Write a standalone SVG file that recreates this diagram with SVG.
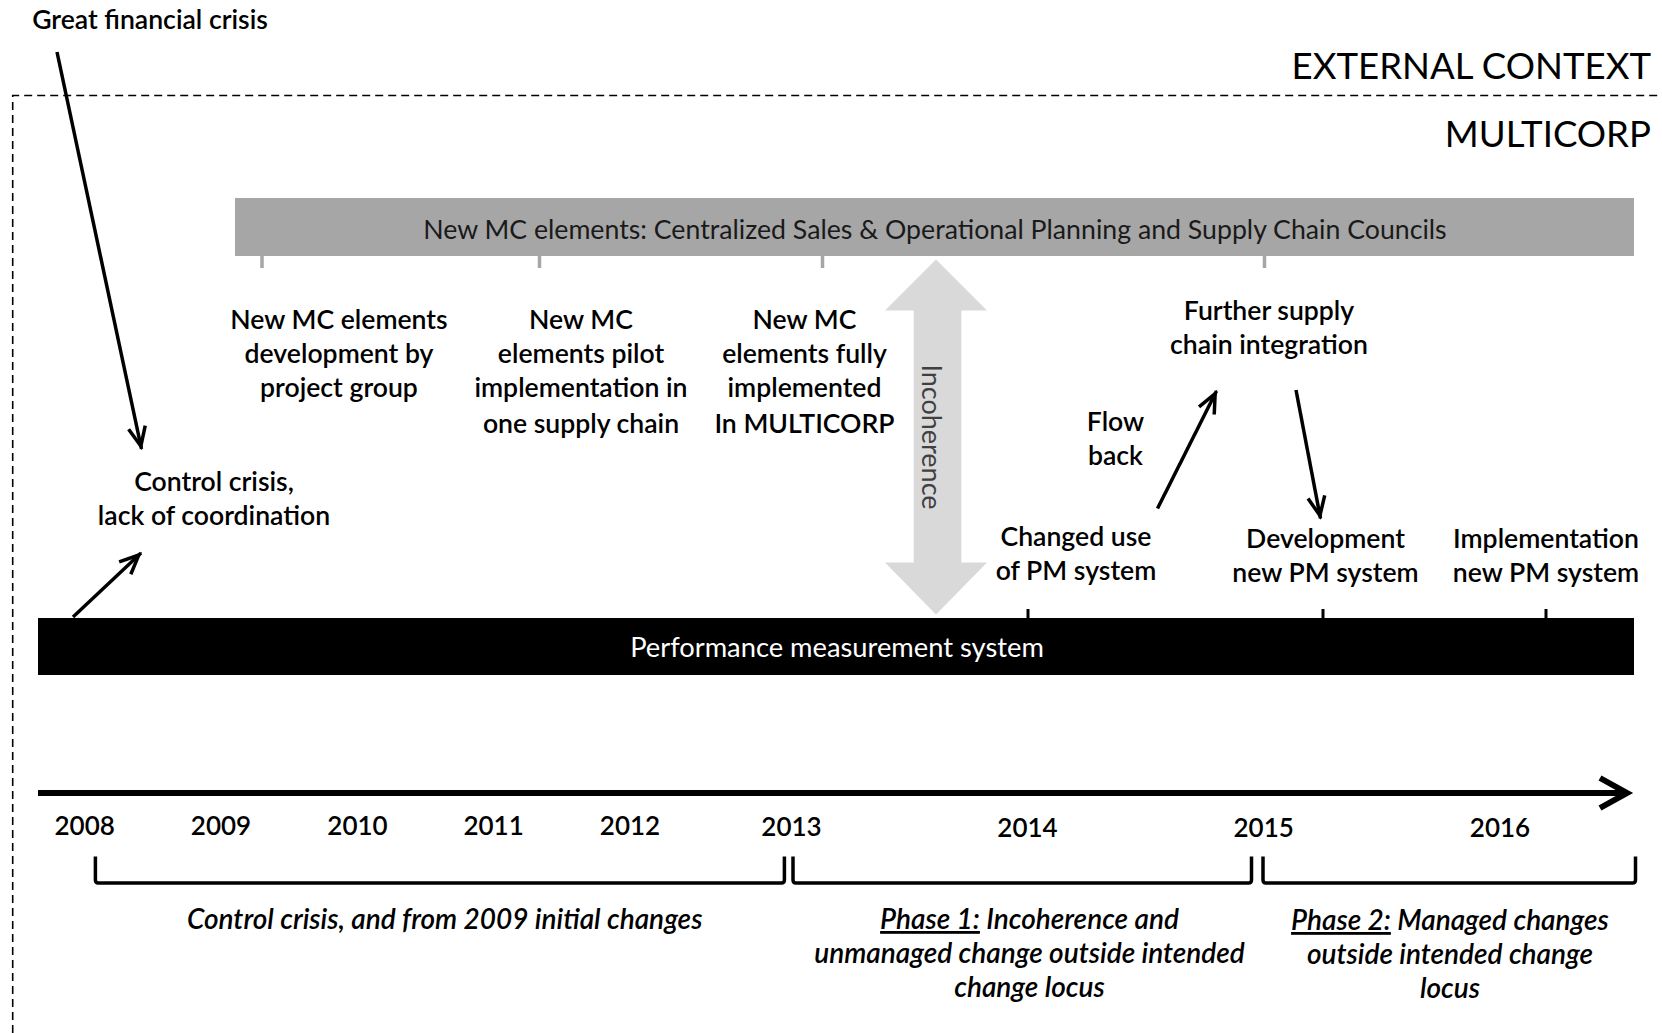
<svg xmlns="http://www.w3.org/2000/svg" width="1662" height="1033" viewBox="0 0 1662 1033">
  <style>
    text { font-family: Lato, "Liberation Sans", "DejaVu Sans", sans-serif; }
    .lbl { font-size: 26.6px; fill: #000; text-anchor: middle; font-weight: 600; }
    .title { font-size: 36.6px; fill: #000; text-anchor: end; }
    .year { font-size: 26px; fill: #000; text-anchor: middle; font-weight: 600; }
    .phase { font-size: 28px; fill: #000; text-anchor: middle; font-style: italic; font-weight: 600; }
    .mc-text { font-size: 26.7px; fill: #1a1a1a; text-anchor: middle; }
    .pm-text { font-size: 27.3px; fill: #fff; text-anchor: middle; }
    .incoh { font-size: 27px; fill: #404040; text-anchor: middle; }
    .arrow { stroke: #000; stroke-width: 3.5; fill: none; }
    .bracket { stroke: #000; stroke-width: 3.5; fill: none; stroke-linejoin: round; }
    .tick-gray { stroke: #a6a6a6; stroke-width: 3.5; }
    .tick-black { stroke: #000; stroke-width: 3; }
  </style>
  <defs>
    <marker id="head" viewBox="0 0 26 20" refX="23" refY="10" markerWidth="26" markerHeight="20" markerUnits="userSpaceOnUse" orient="auto" overflow="visible">
      <path d="M1,1.5 L20,10 L1,18.5" fill="none" stroke="#000" stroke-width="3.5"/>
    </marker>
    <marker id="time-head" viewBox="0 0 34 32" refX="27" refY="16" markerWidth="34" markerHeight="32" markerUnits="userSpaceOnUse" orient="auto" overflow="visible">
      <path d="M0,1 L27,16 L0,31" fill="none" stroke="#000" stroke-width="6"/>
    </marker>
  </defs>

  <rect width="1662" height="1033" fill="#fff"/>

  <!-- organisation boundary (dashed) -->
  <path d="M12.7,1033 L12.7,95.5 L1662,95.5" fill="none" stroke="#000" stroke-width="1.6" stroke-dasharray="8 5"/>

  <g id="external-context">
    <text class="title" x="1651" y="79">EXTERNAL CONTEXT</text>
  </g>
  <g id="multicorp">
    <text class="title" x="1651" y="147">MULTICORP</text>
  </g>

  <g id="great-financial-crisis">
    <text class="lbl" x="150" y="29">Great financial crisis</text>
  </g>

  <!-- management control elements bar -->
  <g id="mc-bar">
    <rect x="235" y="198" width="1399" height="58" fill="#a6a6a6"/>
    <text class="mc-text" x="935" y="239">New MC elements: Centralized Sales &amp; Operational Planning and Supply Chain Councils</text>
    <line class="tick-gray" x1="262" y1="256" x2="262" y2="268"/>
    <line class="tick-gray" x1="539.5" y1="256" x2="539.5" y2="268"/>
    <line class="tick-gray" x1="822.5" y1="256" x2="822.5" y2="268"/>
    <line class="tick-gray" x1="1264.5" y1="256" x2="1264.5" y2="268"/>
  </g>

  <g id="mc-development">
    <text class="lbl" x="339" y="329">New MC elements</text>
    <text class="lbl" x="339" y="363">development by</text>
    <text class="lbl" x="339" y="397">project group</text>
  </g>
  <g id="mc-pilot">
    <text class="lbl" x="581" y="329">New MC</text>
    <text class="lbl" x="581" y="363">elements pilot</text>
    <text class="lbl" x="581" y="397">implementation in</text>
    <text class="lbl" x="581" y="433">one supply chain</text>
  </g>
  <g id="mc-full">
    <text class="lbl" x="804.5" y="329">New MC</text>
    <text class="lbl" x="804.5" y="363">elements fully</text>
    <text class="lbl" x="804.5" y="397">implemented</text>
    <text class="lbl" x="804.5" y="433">In MULTICORP</text>
  </g>

  <!-- incoherence double arrow -->
  <g id="incoherence">
    <path d="M936,259.5 L987,310.5 L961.4,310.5 L961.4,562.5 L987,562.5 L936,614.5 L885,562.5 L913.7,562.5 L913.7,310.5 L885,310.5 Z" fill="#d9d9d9"/>
    <text class="incoh" transform="translate(922,437) rotate(90)">Incoherence</text>
  </g>

  <g id="further-integration">
    <text class="lbl" x="1269" y="320">Further supply</text>
    <text class="lbl" x="1269" y="354">chain integration</text>
  </g>
  <g id="flow-back">
    <text class="lbl" x="1115.5" y="431">Flow</text>
    <text class="lbl" x="1115.5" y="465">back</text>
  </g>
  <g id="control-crisis">
    <text class="lbl" x="214" y="491">Control crisis,</text>
    <text class="lbl" x="214" y="525">lack of coordination</text>
  </g>
  <g id="changed-use">
    <text class="lbl" x="1076" y="546">Changed use</text>
    <text class="lbl" x="1076" y="580">of PM system</text>
  </g>
  <g id="development-pm">
    <text class="lbl" x="1325.5" y="548">Development</text>
    <text class="lbl" x="1325.5" y="582">new PM system</text>
  </g>
  <g id="implementation-pm">
    <text class="lbl" x="1546" y="548">Implementation</text>
    <text class="lbl" x="1546" y="582">new PM system</text>
  </g>

  <!-- performance measurement system bar -->
  <g id="pm-bar">
    <rect x="38" y="618" width="1596" height="57" fill="#000"/>
    <text class="pm-text" x="837" y="657">Performance measurement system</text>
    <line class="tick-black" x1="1028" y1="609" x2="1028" y2="618"/>
    <line class="tick-black" x1="1323" y1="609" x2="1323" y2="618"/>
    <line class="tick-black" x1="1546" y1="609" x2="1546" y2="618"/>
  </g>

  <g id="connectors">
    <line class="arrow" x1="57" y1="52" x2="141.5" y2="449" marker-end="url(#head)"/>
    <line class="arrow" x1="73" y1="617" x2="141" y2="553" marker-end="url(#head)"/>
    <line class="arrow" x1="1157.5" y1="508.5" x2="1216.5" y2="391" marker-end="url(#head)"/>
    <line class="arrow" x1="1296" y1="390" x2="1320.5" y2="518.5" marker-end="url(#head)"/>
  </g>

  <!-- timeline -->
  <g id="timeline">
    <line x1="38" y1="793" x2="1627" y2="793" stroke="#000" stroke-width="6" marker-end="url(#time-head)"/>
    <text class="year" x="84.7" y="835">2008</text>
    <text class="year" x="221" y="835">2009</text>
    <text class="year" x="357.5" y="835">2010</text>
    <text class="year" x="493.6" y="835">2011</text>
    <text class="year" x="630" y="835">2012</text>
    <text class="year" x="791.5" y="836">2013</text>
    <text class="year" x="1027.5" y="837">2014</text>
    <text class="year" x="1263.7" y="837">2015</text>
    <text class="year" x="1500" y="837">2016</text>
  </g>

  <!-- period brackets -->
  <g id="period-initial">
    <path class="bracket" d="M95.4,856.5 L95.4,880 Q95.4,883 98.4,883 L781.4,883 Q784.4,883 784.4,880 L784.4,856.5"/>
    <text class="phase" x="444.7" y="929">Control crisis, and from 2009 initial changes</text>
  </g>
  <g id="period-phase1">
    <path class="bracket" d="M793,856.5 L793,880 Q793,883 796,883 L1248.5,883 Q1251.5,883 1251.5,880 L1251.5,856.5"/>
    <text class="phase" x="1029.5" y="929"><tspan text-decoration="underline">Phase 1:</tspan> Incoherence and</text>
    <text class="phase" x="1029.5" y="963">unmanaged change outside intended</text>
    <text class="phase" x="1029.5" y="997">change locus</text>
  </g>
  <g id="period-phase2">
    <path class="bracket" d="M1263,856.5 L1263,880 Q1263,883 1266,883 L1632.5,883 Q1635.5,883 1635.5,880 L1635.5,856.5"/>
    <text class="phase" x="1450" y="930"><tspan text-decoration="underline">Phase 2:</tspan> Managed changes</text>
    <text class="phase" x="1450" y="964">outside intended change</text>
    <text class="phase" x="1450" y="998">locus</text>
  </g>
</svg>
